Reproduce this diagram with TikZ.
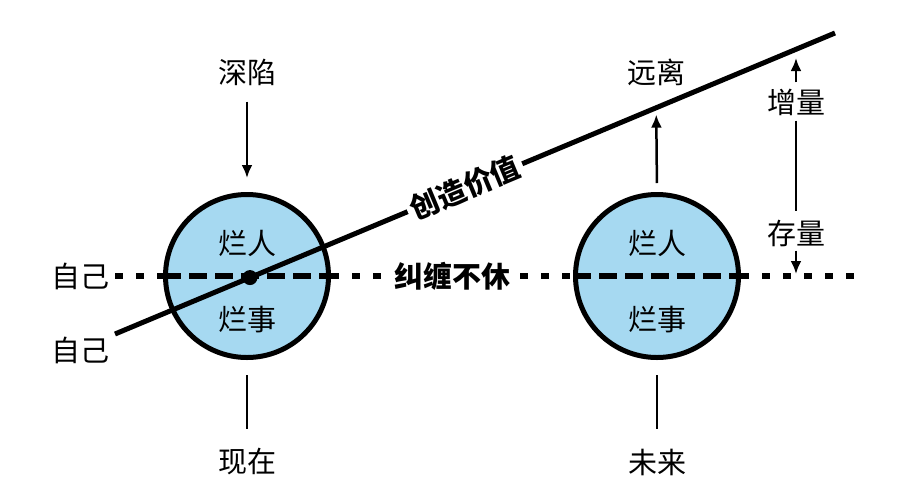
\documentclass[tikz,border=0pt]{standalone}
\usepackage{fontspec}
\setmainfont{Noto Sans CJK SC}
\usetikzlibrary{arrows.meta,positioning,calc}
\definecolor{bubbleblue}{RGB}{166,217,241}

\begin{document}
\begin{tikzpicture}[
    x=1pt, y=-1pt,
    every node/.style={
        font=\fontsize{29}{29}\selectfont,
        inner sep=2pt
    },
    bubble/.style={circle, draw, line width=5pt, fill=bubbleblue,
        minimum size=163pt, inner sep=0pt},
    dots/.style={line width=6pt, dash pattern=on 8pt off 13pt},
    dashes/.style={line width=6pt, dash pattern=on 18pt off 8pt},
    pointer/.style={-{Latex[length=13pt,width=11pt]}, line width=2.5pt},
    tag/.style={fill=white, inner sep=4pt,
        font=\fontsize{29}{29}\selectfont\bfseries}
]
\useasboundingbox (0,0) rectangle (899,499);

% ---------------- Circles ----------------
\node[bubble] (now) at (247,276) {};
\node[bubble] (future) at (657,276) {};
\node (nowUp) at (247,243) {烂人};
\node (nowDown) at (247,320) {烂事};
\node (futUp) at (657,243) {烂人};
\node (futDown) at (657,320) {烂事};

% ---------------- Labels ----------------
\node (self) at (80,276) {自己};
\node (selfLow) at (80,350) {自己};
\node (deep) at (247,72) {深陷};
\node (far) at (656,72) {远离};
\node (present) at (247,462) {现在};
\node (later) at (657,462) {未来};
\node (gain) at (796,102) {增量};
\node (stock) at (796,233) {存量};

\coordinate (dashStart) at (115,276);
\coordinate (dashEnd) at (855,276);
\coordinate (lineStart) at (115,334);
\coordinate (lineEnd) at (835,33);
\coordinate (gainTip) at (796,58);
\coordinate (stockTip) at (796,274);

% ---------------- Horizontal line ----------------
\draw[dots] (dashStart) -- (now.west);
\draw[dashes] (now.west) -- (now.east);
\draw[dots] (now.east) -- node[tag] (tangle) {纠缠不休} (future.west);
\draw[dashes] (future.west) -- (future.east);
\draw[dots] (future.east) -- (dashEnd);

% ---------------- Rising line ----------------
\draw[line width=5pt] (lineStart) --
    node[tag, sloped, pos=0.486] (create) {创造价值} (lineEnd);
\node[circle, fill, minimum size=15pt, inner sep=0pt] (hub)
    at ($(lineStart)!0.1875!(lineEnd)$) {};

% ---------------- Arrows ----------------
\draw[pointer, shorten <=14pt, shorten >=14pt] (deep.south) -- (now.north);
\draw[pointer, shorten <=9pt, shorten >=27pt] (future.north) -- (far.south);
\draw[line width=2pt, shorten <=15pt, shorten >=17pt] (now.south) -- (present.north);
\draw[line width=2pt, shorten <=15pt, shorten >=17pt] (future.south) -- (later.north);
\draw[pointer, shorten <=4pt] (gain.north) -- (gainTip);
\draw[line width=2.5pt, shorten <=3pt, shorten >=6pt] (gain.south) -- (stock.north);
\draw[pointer, shorten <=2pt] (stock.south) -- (stockTip);

\end{tikzpicture}
\end{document}
